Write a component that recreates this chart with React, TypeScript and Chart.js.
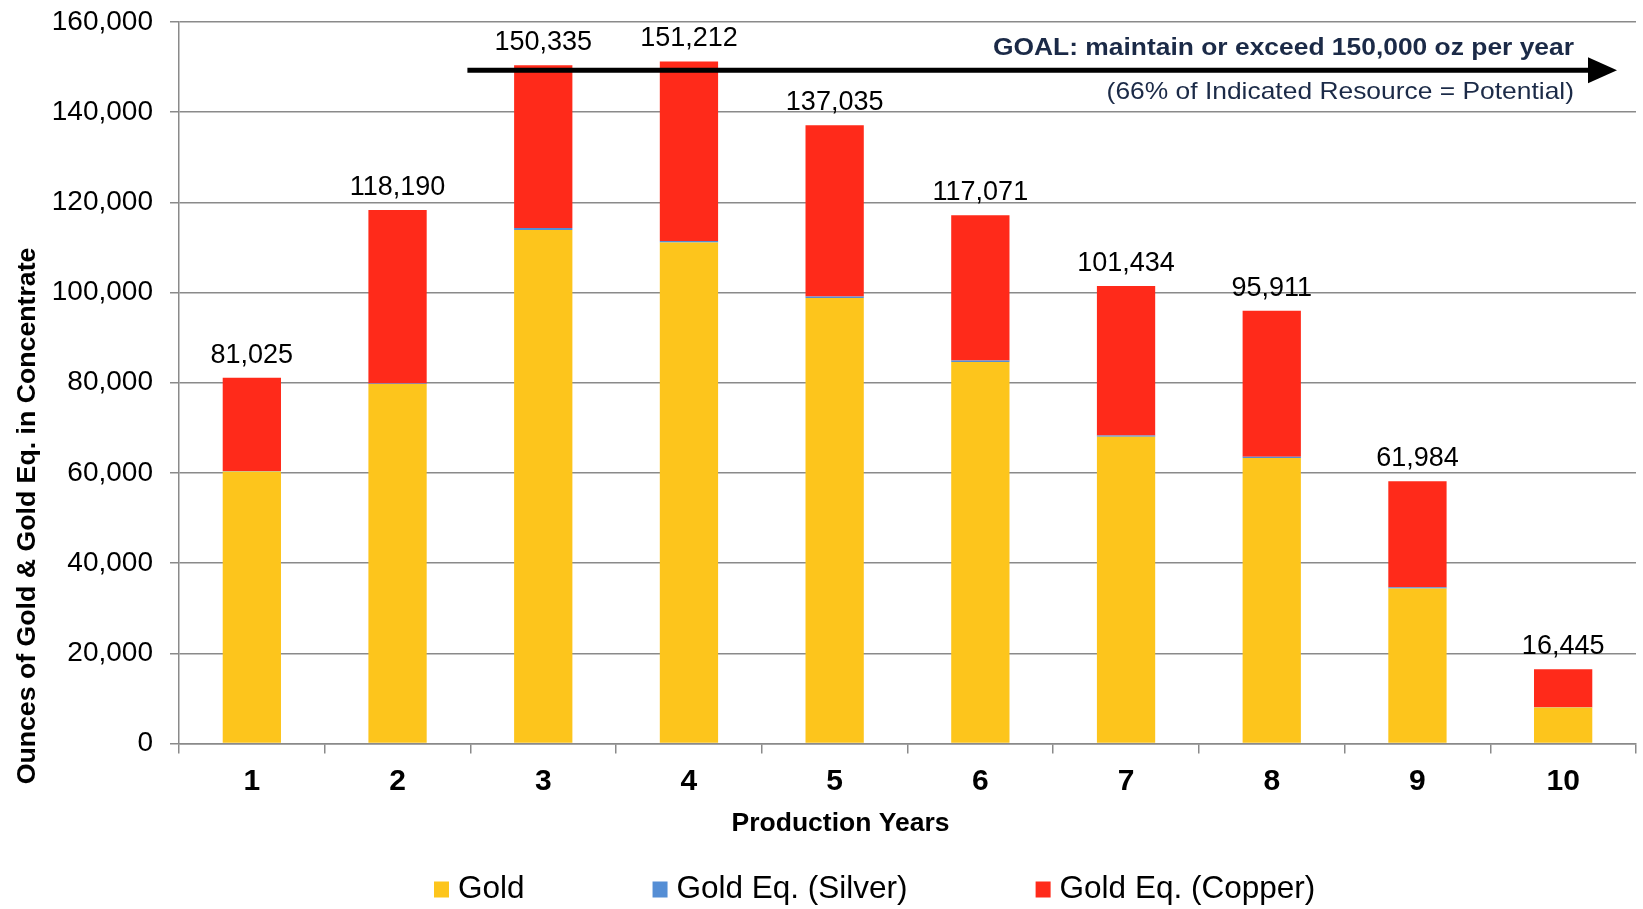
import React, { useEffect, useRef } from "react";
import { Chart, registerables } from "chart.js";

Chart.register(...registerables);

const YEARS = ["1", "2", "3", "4", "5", "6", "7", "8", "9", "10"];
const GOLD = [60300, 79700, 113900, 111100, 98800, 84600, 68000, 63300, 34400, 8000];
const SILVER = [150, 150, 400, 350, 350, 350, 300, 300, 250, 50];
const COPPER = [20650, 38450, 36100, 39800, 37950, 32200, 33130, 32350, 23500, 8400];
const TOTAL_LABELS = ["81,025", "118,190", "150,335", "151,212", "137,035", "117,071", "101,434", "95,911", "61,984", "16,445"];
const SERIES_NAMES = ["Gold", "Gold Eq. (Silver)", "Gold Eq. (Copper)"];
const SERIES_COLORS = ["#FDC51C", "#558ED5", "#FF2A1A"];
const Y_MIN = 0;
const Y_MAX = 160000;
const Y_STEP = 20000;
const GOAL_LINE_VALUE = 149300;
const GOAL_TEXT = "GOAL: maintain or exceed 150,000 oz per year";
const GOAL_SUBTEXT = "(66% of Indicated Resource = Potential)";
const Y_TITLE = "Ounces of Gold & Gold Eq. in Concentrate";
const X_TITLE = "Production Years";

const FONT = "'Liberation Sans', Arial, sans-serif";
const GRID = "#8a8a8a";
const W = 1643;
const H = 909;

const overlayPlugin = {
  id: "overlay",
  afterDatasetsDraw(chart: any) {
    const { ctx, chartArea, scales } = chart;
    const x = scales.x;
    const y = scales.y;
    ctx.save();
    // total labels above stacks
    const topMeta = chart.getDatasetMeta(chart.data.datasets.length - 1);
    ctx.font = `27px ${FONT}`;
    ctx.fillStyle = "#000";
    ctx.textAlign = "center";
    ctx.textBaseline = "alphabetic";
    topMeta.data.forEach((bar: any, i: number) => {
      ctx.fillText(TOTAL_LABELS[i], bar.x, bar.y - 15);
    });

    // goal arrow
    const ay = y.getPixelForValue(GOAL_LINE_VALUE);
    const x0 = x.getPixelForValue(1.5) - 3;
    const tip = chartArea.right - 19;
    const base = tip - 29;
    ctx.strokeStyle = "#000";
    ctx.lineWidth = 5;
    ctx.beginPath();
    ctx.moveTo(x0, ay);
    ctx.lineTo(base + 2, ay);
    ctx.stroke();
    ctx.fillStyle = "#000";
    ctx.beginPath();
    ctx.moveTo(base, ay - 13);
    ctx.lineTo(tip, ay);
    ctx.lineTo(base, ay + 13);
    ctx.closePath();
    ctx.fill();

    // goal texts
    const rightX = chartArea.right - 62;
    ctx.fillStyle = "#1B2A47";
    ctx.textAlign = "right";
    ctx.save();
    ctx.translate(rightX, ay - 15);
    ctx.scale(1.1, 1);
    ctx.font = `bold 24px ${FONT}`;
    ctx.fillText(GOAL_TEXT, 0, 0);
    ctx.restore();
    ctx.save();
    ctx.translate(rightX, ay + 29);
    ctx.scale(1.1, 1);
    ctx.font = `24px ${FONT}`;
    ctx.fillText(GOAL_SUBTEXT, 0, 0);
    ctx.restore();
    ctx.restore();
  },
  afterDraw(chart: any) {
    const { ctx, chartArea } = chart;
    ctx.save();
    ctx.fillStyle = "#000";
    // y title
    ctx.save();
    ctx.translate(28, 516);
    ctx.rotate(-Math.PI / 2);
    ctx.font = `bold 26.7px ${FONT}`;
    ctx.textAlign = "center";
    ctx.textBaseline = "middle";
    ctx.fillText(Y_TITLE, 0, 0);
    ctx.restore();
    // x title
    ctx.font = `bold 26.5px ${FONT}`;
    ctx.textAlign = "center";
    ctx.textBaseline = "alphabetic";
    ctx.fillText(X_TITLE, (chartArea.left + chartArea.right) / 2 - 67, chartArea.bottom + 87);
    // legend
    ctx.font = `31.5px ${FONT}`;
    ctx.textBaseline = "middle";
    ctx.textAlign = "left";
    const ly = chartArea.bottom + 146;
    let lx = 434;
    chart.data.datasets.forEach((ds: any) => {
      ctx.fillStyle = ds.backgroundColor;
      ctx.fillRect(lx, ly - 8, 15, 16);
      ctx.fillStyle = "#000";
      ctx.fillText(ds.label, lx + 24, ly);
      lx += 24 + ctx.measureText(ds.label).width + 128;
    });
    ctx.restore();
  },
};

export default function App() {
  const ref = useRef<HTMLCanvasElement | null>(null);

  useEffect(() => {
    document.body.style.margin = "0";
    const canvas = ref.current;
    if (!canvas) return;
    const seriesData = [GOLD, SILVER, COPPER];
    const chart = new Chart(canvas, {
      type: "bar",
      data: {
        labels: YEARS,
        datasets: seriesData.map((d, i) => ({
          label: SERIES_NAMES[i],
          data: d,
          backgroundColor: SERIES_COLORS[i],
          borderWidth: 0,
          barPercentage: 0.4,
          categoryPercentage: 1,
        })),
      },
      options: {
        responsive: false,
        animation: false,
        devicePixelRatio: 1,
        layout: { padding: { left: 0, right: 7, top: 22, bottom: 0 } },
        plugins: {
          legend: { display: false },
          tooltip: { enabled: false },
          title: { display: false },
        },
        scales: {
          x: {
            stacked: true,
            afterFit: (s: any) => {
              s.height = 165.5;
            },
            grid: {
              drawOnChartArea: false,
              drawTicks: true,
              tickLength: 10,
              color: GRID,
              lineWidth: 1.5,
              offset: true,
            },
            border: { display: true, color: GRID, width: 1.5 },
            ticks: {
              color: "#000",
              font: { family: FONT, size: 30, weight: "bold" },
              padding: 10,
              maxRotation: 0,
            },
          },
          y: {
            stacked: true,
            min: Y_MIN,
            max: Y_MAX,
            afterFit: (s: any) => {
              s.width = 179;
              s.paddingTop = 0;
              s.paddingBottom = 0;
            },
            grid: {
              color: GRID,
              lineWidth: 1.5,
              tickLength: 9,
              drawTicks: true,
            },
            border: { display: true, color: GRID, width: 1.5 },
            ticks: {
              stepSize: Y_STEP,
              color: "#000",
              font: { family: FONT, size: 28 },
              padding: 17,
              callback: (v: any) => Number(v).toLocaleString("en-US"),
            },
          },
        },
      },
      plugins: [overlayPlugin],
    });
    return () => chart.destroy();
  }, []);

  return (
    <div style={{ width: W, height: H }}>
      <canvas ref={ref} width={W} height={H} style={{ display: "block", width: W, height: H }} />
    </div>
  );
}
